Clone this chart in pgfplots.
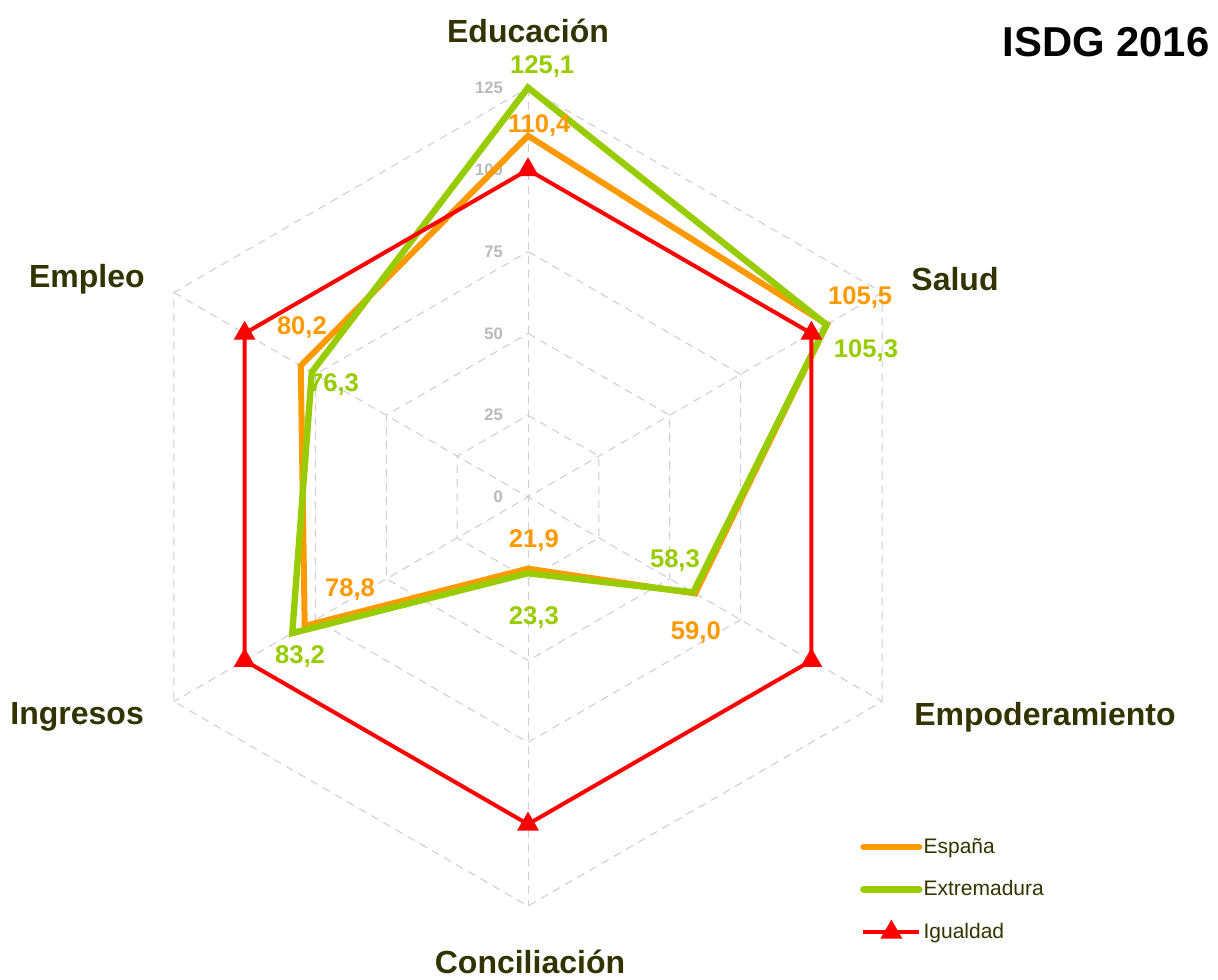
\documentclass[border=0pt]{standalone}
\usepackage{fontspec}
\setmainfont{Liberation Sans}
\usepackage{pgfplots}
\usepackage{pgfplotstable}
\pgfplotsset{compat=1.18}
\definecolor{esp}{RGB}{255,153,0}
\definecolor{ext}{RGB}{153,204,0}
\definecolor{igu}{RGB}{255,0,0}
\definecolor{cat}{RGB}{51,51,0}
\definecolor{gridc}{RGB}{205,205,205}
\definecolor{tickc}{RGB}{185,185,185}

\pgfplotstableread{
angle value
90 110.4
30 105.5
-30 59.0
-90 21.9
-150 78.8
150 80.2
}\espana
\pgfplotstableread{
angle value
90 125.1
30 105.3
-30 58.3
-90 23.3
-150 83.2
150 76.3
}\extremadura
\pgfplotstableread{
angle value
90 100
30 100
-30 100
-90 100
-150 100
150 100
}\igualdad

\begin{document}
\begin{tikzpicture}
\begin{axis}[
 scale only axis, width=609pt, height=489.5pt,
 xmin=-161.37, xmax=210.88, ymin=-147.31, ymax=151.89,
 hide axis, clip=false,
 legend style={at={(axis cs:101.4,-103.8)}, anchor=north west, draw=none, fill=none, inner sep=0pt,
   font=\fontsize{10.5}{12.5}\selectfont\color{cat}, row sep=11.2pt,
   nodes={inner sep=0.5pt}},
 legend cell align=left,
 legend image code/.code={\draw[mark repeat=2,mark phase=2,#1] plot coordinates {(0pt,0pt) (14pt,0pt) (28pt,0pt)};},
]
% grid rings
\pgfplotsinvokeforeach{25,50,75,100,125}{
 \addplot[forget plot, data cs=polar, gridc, line width=0.5pt, dash pattern=on 4pt off 3pt, no marks]
  coordinates {(90,#1) (30,#1) (-30,#1) (-90,#1) (-150,#1) (150,#1) (90,#1)};
}
% spokes
\addplot[forget plot, data cs=polar, gridc, line width=0.5pt, dash pattern=on 4pt off 3pt, no marks] coordinates {(90,125) (270,125)};
\addplot[forget plot, data cs=polar, gridc, line width=0.5pt, dash pattern=on 4pt off 3pt, no marks] coordinates {(30,125) (210,125)};
\addplot[forget plot, data cs=polar, gridc, line width=0.5pt, dash pattern=on 4pt off 3pt, no marks] coordinates {(150,125) (330,125)};
% tick labels
\pgfplotsinvokeforeach{0,25,50,75,100,125}{
 \node[anchor=east, inner sep=0pt, text=tickc, font=\fontsize{8.3}{9}\selectfont\bfseries] at (axis cs:-7.6,#1) {#1};
}
% data
\addplot[data cs=polar, esp, line width=3pt, line join=miter, line cap=round, no marks] table[x=angle,y=value]{\espana} -- cycle;
\addlegendentry{España}
\addplot[data cs=polar, ext, line width=3.2pt, line join=miter, line cap=round, no marks] table[x=angle,y=value]{\extremadura} -- cycle;
\addlegendentry{Extremadura}
\addplot[data cs=polar, igu, line width=2pt, line join=miter, mark=triangle*, mark size=4.3pt, mark options={solid}] table[x=angle,y=value]{\igualdad} -- cycle;
\addlegendentry{Igualdad}

% category labels
\begin{scope}[every node/.style={text=cat, font=\fontsize{16}{19}\selectfont\bfseries, inner sep=0pt}]
\node at (axis cs:0,142.4) {Educación};
\node at (axis cs:130.5,66.6) {Salud};
\node at (axis cs:158.0,-67.2) {Empoderamiento};
\node at (axis cs:0.6,-142.1) {Conciliación};
\node at (axis cs:-137.8,-67.2) {Ingresos};
\node at (axis cs:-134.8,66.6) {Empleo};
\end{scope}
\node[anchor=east, inner sep=0pt, font=\fontsize{20.9}{24}\selectfont\bfseries] at (axis cs:208.4,139.1) {ISDG 2016};

% value labels
\begin{scope}[every node/.style={font=\fontsize{12.8}{15}\selectfont\bfseries, inner sep=0pt}]
\node[text=ext] at (axis cs:4.3,131.4) {125,1};
\node[text=esp] at (axis cs:3.4,113.4) {110,4};
\node[text=esp] at (axis cs:101.5,60.8) {105,5};
\node[text=ext] at (axis cs:103.3,44.9) {105,3};
\node[text=ext] at (axis cs:44.9,-19.3) {58,3};
\node[text=esp] at (axis cs:51.3,-41.3) {59,0};
\node[text=esp] at (axis cs:1.8,-13.4) {21,9};
\node[text=ext] at (axis cs:1.8,-36.7) {23,3};
\node[text=esp] at (axis cs:-54.4,-28.4) {78,8};
\node[text=ext] at (axis cs:-69.7,-48.9) {83,2};
\node[text=esp] at (axis cs:-69.1,51.7) {80,2};
\node[text=ext] at (axis cs:-59.3,34.5) {76,3};
\end{scope}
\end{axis}
\pgfresetboundingbox
\path (0,0) rectangle (609pt,489.5pt);
\end{tikzpicture}
\end{document}
